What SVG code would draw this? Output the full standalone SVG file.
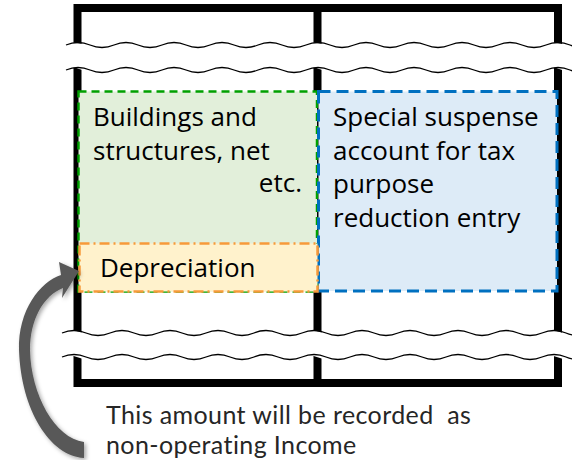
<svg xmlns="http://www.w3.org/2000/svg" width="572" height="460" viewBox="0 0 572 460">
<style>
.frame{fill:none;stroke:#000;stroke-width:8}
.band{fill:none;stroke:#fff;stroke-width:25}
.wave{fill:none;stroke:#000;stroke-width:1.3}
.t{font-family:"Open Sans","Noto Sans",sans-serif;font-size:26px;fill:#000}
.note{font-family:Lato,"Open Sans",sans-serif;font-size:25px;letter-spacing:0.4px;fill:#262626}
</style>
<defs>
<filter id="sh" x="-30%" y="-30%" width="160%" height="160%">
<feDropShadow dx="2" dy="2" stdDeviation="2" flood-color="#000" flood-opacity="0.35"/>
</filter>
</defs>
<g id="frame">
<rect class="frame" x="77.5" y="8" width="480.5" height="375"/>
<line class="frame" x1="317.5" y1="8" x2="317.5" y2="383"/>
</g>
<g id="breaks">
<path class="band" d="M60,57.5 q12,-5 24,0 t24,0 t24,0 t24,0 t24,0 t24,0 t24,0 t24,0 t24,0 t24,0 t24,0 t24,0 t24,0 t24,0 t24,0 t24,0 t24,0 t24,0 t24,0 t24,0 t24,0 t24,0"/>
<path class="wave" d="M66,45 q12,-5 24,0 t24,0 t24,0 t24,0 t24,0 t24,0 t24,0 t24,0 t24,0 t24,0 t24,0 t24,0 t24,0 t24,0 t24,0 t24,0 t24,0 t24,0 t24,0 t24,0 t24,0 t24,0"/>
<path class="wave" d="M66,70 q12,-5 24,0 t24,0 t24,0 t24,0 t24,0 t24,0 t24,0 t24,0 t24,0 t24,0 t24,0 t24,0 t24,0 t24,0 t24,0 t24,0 t24,0 t24,0 t24,0 t24,0 t24,0 t24,0"/>
<path class="band" d="M56,345 q12,-5 24,0 t24,0 t24,0 t24,0 t24,0 t24,0 t24,0 t24,0 t24,0 t24,0 t24,0 t24,0 t24,0 t24,0 t24,0 t24,0 t24,0 t24,0 t24,0 t24,0 t24,0 t24,0"/>
<path class="wave" d="M62,333 q12,-5 24,0 t24,0 t24,0 t24,0 t24,0 t24,0 t24,0 t24,0 t24,0 t24,0 t24,0 t24,0 t24,0 t24,0 t24,0 t24,0 t24,0 t24,0 t24,0 t24,0 t24,0 t24,0"/>
<path class="wave" d="M62,357 q12,-5 24,0 t24,0 t24,0 t24,0 t24,0 t24,0 t24,0 t24,0 t24,0 t24,0 t24,0 t24,0 t24,0 t24,0 t24,0 t24,0 t24,0 t24,0 t24,0 t24,0 t24,0 t24,0"/>
</g>
<g id="node-buildings">
<rect x="78.5" y="91.5" width="238.5" height="200" fill="#E2EFDA" stroke="#00A000" stroke-width="2.5" stroke-dasharray="8 5"/>
<text class="t" x="93" y="126">Buildings and</text>
<text class="t" x="93" y="160">structures, net</text>
<text class="t" x="302" y="192" text-anchor="end">etc.</text>
</g>
<g id="node-special">
<rect x="318.5" y="91.5" width="238.5" height="199.5" fill="#DDEBF7" stroke="#0070C0" stroke-width="3" stroke-dasharray="12 6"/>
<text class="t" x="333" y="126">Special suspense</text>
<text class="t" x="333" y="159.5">account for tax</text>
<text class="t" x="333" y="193">purpose</text>
<text class="t" x="333" y="226.5">reduction entry</text>
</g>
<g id="node-depreciation">
<rect x="79.5" y="243.5" width="238" height="48" fill="#FFF2CC" stroke="#F79A3A" stroke-width="2.5" stroke-dasharray="10 4 2 4"/>
<text class="t" x="100" y="277">Depreciation</text>
</g>
<g id="connectors">
<path filter="url(#sh)" fill="#595959" d="M84,458 C50,456 21,410 19,350 C18,310 40,282 61,275 L59,262 L79,271 L62,298 L63,288 C43,296 30,320 30,350 C31,395 55,438 84,442 Z"/>
</g>
<g id="note">
<text class="note" x="106" y="423.5" xml:space="preserve">This amount will be recorded  as</text>
<text class="note" x="106" y="454">non-operating Income</text>
</g>
</svg>
